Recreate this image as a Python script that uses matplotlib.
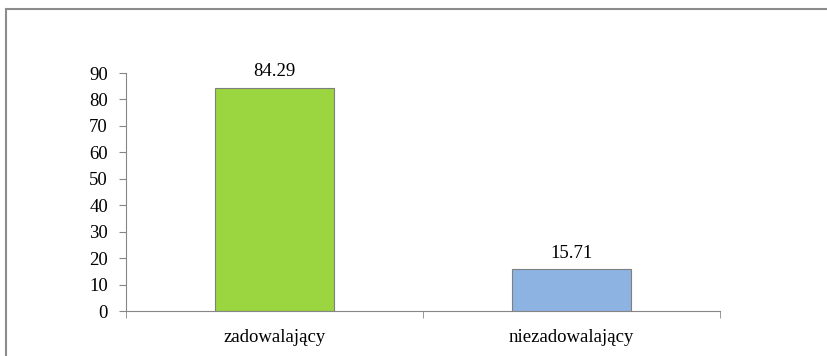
import matplotlib.pyplot as plt
from matplotlib.patches import Rectangle

categories = ["zadowalający", "niezadowalający"]
values = [84.29, 15.71]
bar_colors = ["#9BD53F", "#8DB3E2"]
yticks = [0, 10, 20, 30, 40, 50, 60, 70, 80, 90]

plt.rcParams['font.family'] = ['Liberation Serif', 'DejaVu Serif']
FS = 13.5

fig = plt.figure(figsize=(8.28, 3.56), dpi=100)
ax = fig.add_axes([126 / 828, 1 - 311 / 356, (720 - 126) / 828, (311 - 73) / 356])

# outer chart frame (cut off right and bottom in the original)
fig.patches.append(Rectangle((6 / 828, -0.2), 1.2, 1.2 - 9 / 356,
                             transform=fig.transFigure, fill=False,
                             edgecolor="#8c8c8c", linewidth=1.5))

x = list(range(len(categories)))
bars = ax.bar(x, values, width=0.4, color=bar_colors,
              edgecolor="#7f7f7f", linewidth=0.8)

for b, v in zip(bars, values):
    ax.text(b.get_x() + b.get_width() / 2, v + 3, f"{v:.2f}",
            ha="center", va="bottom", fontsize=FS)

ax.set_xlim(-0.5, len(categories) - 0.5)
ax.set_ylim(0, 90)
ax.set_yticks(yticks)
ax.tick_params(axis="y", labelsize=FS, length=5, color="#868686", pad=8)

# category labels at centres, tick marks at category boundaries
ax.set_xticks(x)
ax.set_xticklabels(categories, fontsize=FS)
ax.tick_params(axis="x", which="major", length=0, pad=13)
ax.set_xticks([-0.5 + i for i in range(len(categories) + 1)], minor=True)
ax.tick_params(axis="x", which="minor", length=5, color="#868686")

for side in ["top", "right"]:
    ax.spines[side].set_visible(False)
for side in ["left", "bottom"]:
    ax.spines[side].set_color("#868686")

fig.savefig("out.png", dpi=100)
